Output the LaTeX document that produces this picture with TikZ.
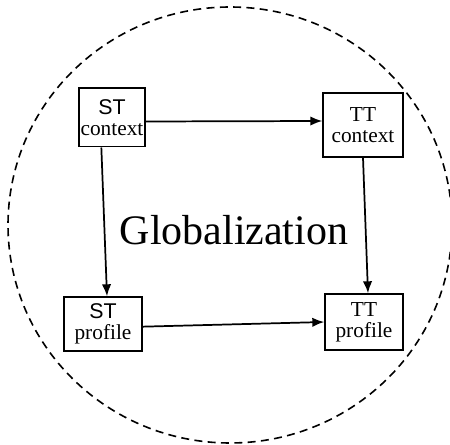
\documentclass[tikz,border=0pt]{standalone}
\usepackage{fontspec}
\setmainfont{Liberation Serif}
\setsansfont{Liberation Sans}
\usetikzlibrary{arrows.meta}

\begin{document}
\begin{tikzpicture}[x=0.75pt, y=-0.75pt,
    box/.style={draw, line width=1pt, inner sep=0pt, align=center, font=\fontsize{16}{15.5}\selectfont},
    arr/.style={line width=1.3pt, -{Latex[length=9pt, width=7pt]}}]

    \clip (0,0) rectangle (450,445);
    \draw[line width=1.2pt, dash pattern=on 6pt off 4pt] (230,225) ellipse [x radius=222, y radius=218];

    \node[box, minimum width=49.5pt, minimum height=44pt] (stc) at (112,117.5) {\sffamily ST\\context};
    \node[box, minimum width=60pt, minimum height=48pt] (ttc) at (363,125) {TT\\context};
    \node[box, minimum width=58.5pt, minimum height=40.5pt] (stp) at (103,324) {\sffamily ST\\profile};
    \node[box, minimum width=58.5pt, minimum height=42pt] (ttp) at (364,322) {TT\\profile};

    \node[font=\fontsize{31.5}{31.5}\selectfont] (glob) at (234,230) {Globalization};

    \draw[arr] ([yshift=-3pt]stc.east) -- ([yshift=3pt]ttc.west);
    \draw[arr] ([xshift=-8pt]stc.south) -- ([xshift=3pt]stp.north);
    \draw[arr] (ttc.south) -- ([xshift=3pt]ttp.north);
    \draw[arr] ([yshift=-2pt]stp.east) -- (ttp.west);

\end{tikzpicture}
\end{document}
